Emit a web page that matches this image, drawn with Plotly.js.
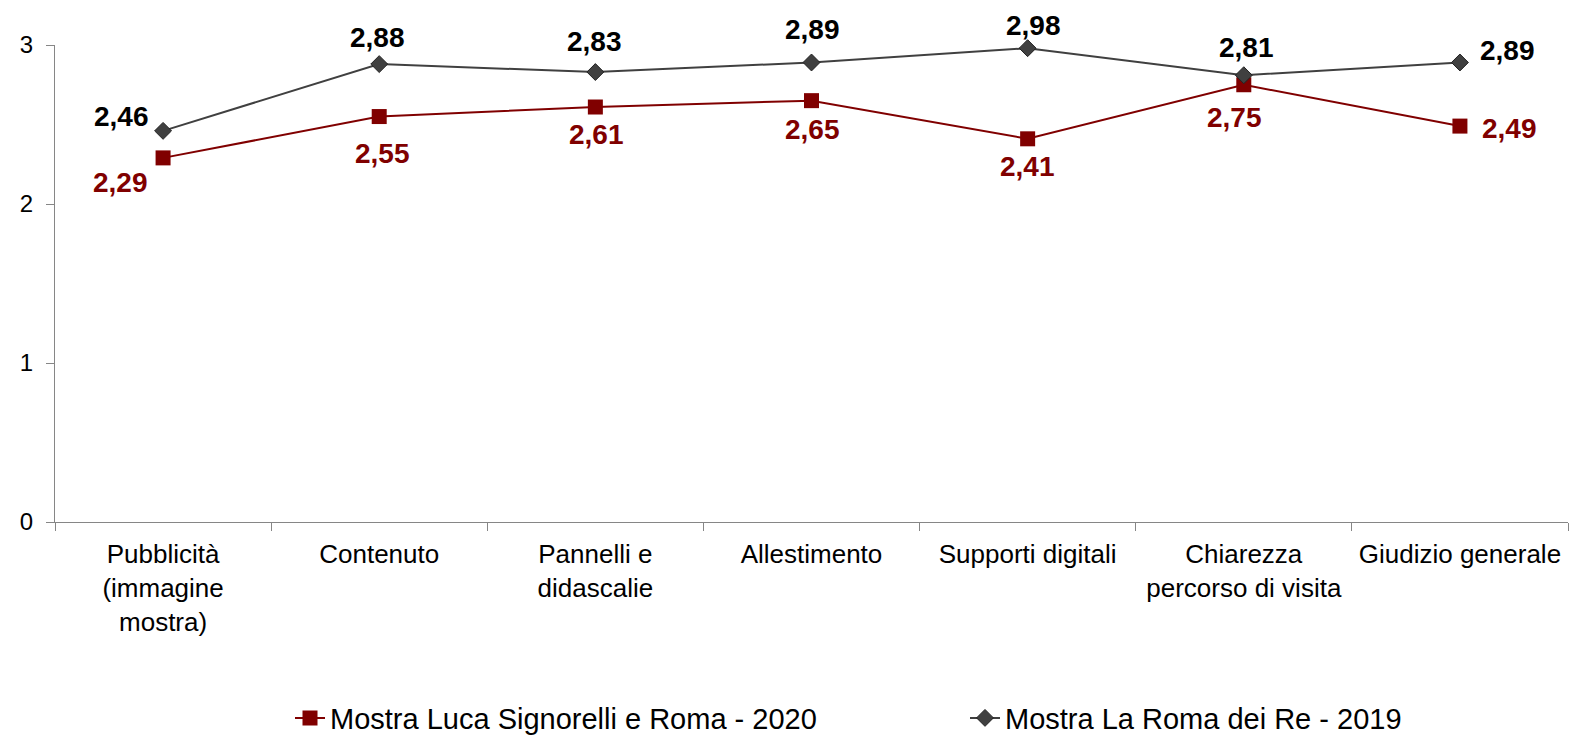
<!DOCTYPE html>
<html>
<head>
<meta charset="utf-8">
<script src="https://cdn.plot.ly/plotly-3.0.1.min.js"></script>
<style>html,body{margin:0;padding:0;background:#fff;}#chart{width:1570px;height:735px;}</style>
</head>
<body>
<div id="chart"></div>
<script>
const categories = ["Pubblicità<br>(immagine<br>mostra)", "Contenuto", "Pannelli e<br>didascalie", "Allestimento", "Supporti digitali", "Chiarezza<br>percorso di visita", "Giudizio generale"];
const seriesNames = ["Mostra Luca Signorelli e Roma - 2020", "Mostra La Roma dei Re - 2019"];
const values2020 = [2.29, 2.55, 2.61, 2.65, 2.41, 2.75, 2.49];
const values2019 = [2.46, 2.88, 2.83, 2.89, 2.98, 2.81, 2.89];
const labels2020 = ["2,29", "2,55", "2,61", "2,65", "2,41", "2,75", "2,49"];
const labels2019 = ["2,46", "2,88", "2,83", "2,89", "2,98", "2,81", "2,89"];
const yTicks = [0, 1, 2, 3];

// label offsets in pixels (style only): [xshift, yshift]
const shift2020 = [[-43, -25], [3, -37], [1, -27], [1, -29], [0, -28], [-9, -33], [50, -2]];
const shift2019 = [[-42, 14], [-2, 27], [-1, 31], [1, 33], [6, 23], [3, 28], [48, 12]];

const FONT = "Liberation Sans, Arial, sans-serif";
const RED = "#800000";
const GRAY = "#404040";

const traces = [
  {
    x: categories, y: values2020, name: seriesNames[0],
    type: "scatter", mode: "lines+markers",
    line: {color: RED, width: 2},
    marker: {symbol: "square", size: 15, color: RED},
    cliponaxis: false, legend: "legend"
  },
  {
    x: categories, y: values2019, name: seriesNames[1],
    type: "scatter", mode: "lines+markers",
    line: {color: GRAY, width: 2},
    marker: {symbol: "diamond", size: 13, color: GRAY, line: {color: "#222", width: 1}},
    cliponaxis: false, legend: "legend2"
  }
];

const annotations = [];
categories.forEach((c, i) => {
  annotations.push({
    x: c, y: values2020[i], xref: "x", yref: "y", text: labels2020[i], showarrow: false,
    xshift: shift2020[i][0], yshift: shift2020[i][1],
    font: {family: FONT, size: 28, color: RED, weight: "bold"}
  });
  annotations.push({
    x: c, y: values2019[i], xref: "x", yref: "y", text: labels2019[i], showarrow: false,
    xshift: shift2019[i][0], yshift: shift2019[i][1],
    font: {family: FONT, size: 28, color: "#000000", weight: "bold"}
  });
});

const legendCommon = {
  orientation: "h", yanchor: "middle", y: -0.411, xanchor: "left",
  font: {family: FONT, size: 29, color: "#000"}, bgcolor: "rgba(0,0,0,0)"
};

const layout = {
  width: 1570, height: 735,
  margin: {l: 55, r: 2, t: 45, b: 213, autoexpand: false},
  paper_bgcolor: "#ffffff", plot_bgcolor: "#ffffff",
  font: {family: FONT, size: 26, color: "#000"},
  showlegend: true,
  annotations: annotations,
  xaxis: {
    type: "category", range: [-0.5, 6.5],
    tickson: "boundaries", ticks: "outside", ticklen: 8, tickcolor: "#868686", tickwidth: 1,
    showline: true, linecolor: "#868686", linewidth: 1,
    showgrid: false, zeroline: false,
    tickfont: {family: FONT, size: 26, color: "#000"},
    ticklabelstandoff: 9,
    fixedrange: true
  },
  yaxis: {
    range: [0, 3], tickvals: yTicks, ticktext: yTicks.map(String),
    ticks: "outside", ticklen: 8, tickcolor: "#868686", tickwidth: 1,
    showline: true, linecolor: "#868686", linewidth: 1,
    showgrid: false, zeroline: false,
    tickfont: {family: FONT, size: 24, color: "#000"},
    ticklabelstandoff: 8,
    fixedrange: true
  },
  legend: Object.assign({}, legendCommon, {x: (290 - 55) / 1513}),
  legend2: Object.assign({}, legendCommon, {x: (965 - 55) / 1513})
};

Plotly.newPlot("chart", traces, layout, {displayModeBar: false, staticPlot: true});
</script>
</body>
</html>
